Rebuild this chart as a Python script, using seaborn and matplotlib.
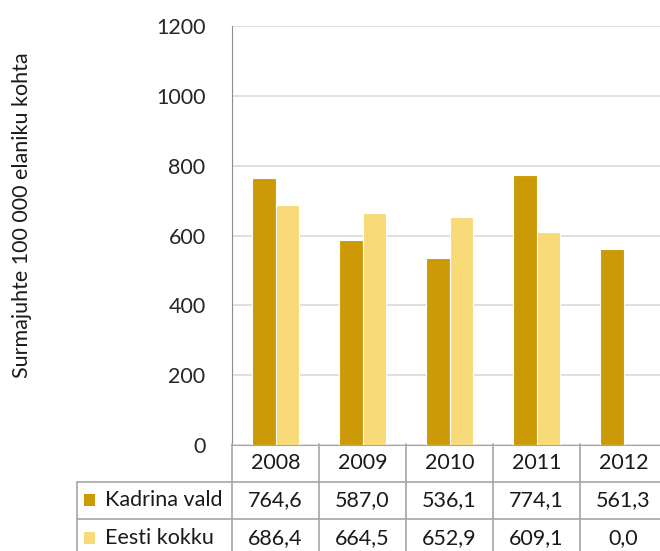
import pandas as pd
import numpy as np
import matplotlib.pyplot as plt
import seaborn as sns

# Andmed
aastad = ['2008', '2009', '2010', '2011', '2012']
kadrina = [764.6, 587.0, 536.1, 774.1, 561.3]
eesti = [686.4, 664.5, 652.9, 609.1, 0.0]
seeria = ['Kadrina vald', 'Eesti kokku']
varvid = ['#CC9A06', '#F9DA78']
y_ticks = [0, 200, 400, 600, 800, 1000, 1200]

sns.set_style("white")
plt.rcParams['font.family'] = ['Lato', 'DejaVu Sans']

df = pd.DataFrame({
    'aasta': aastad * 2,
    'vaartus': kadrina + eesti,
    'seeria': [seeria[0]] * len(aastad) + [seeria[1]] * len(aastad),
})

W, H = 660, 551
fig = plt.figure(figsize=(W / 100, H / 100), dpi=100)

# graafiku ala (piksleid pildilt)
x0, x1 = 232, 667
y_top, y_bot = 26, 445
ax = fig.add_axes([x0 / W, (H - y_bot) / H, (x1 - x0) / W, (y_bot - y_top) / H])

sns.barplot(data=df, x='aasta', y='vaartus', hue='seeria', palette=varvid,
            saturation=1, width=0.55, edgecolor='white', linewidth=0.8,
            legend=False, ax=ax)

ax.set_xlim(-0.5, len(aastad) - 0.5)
ax.set_ylim(0, 1200)
ax.set_yticks(y_ticks)
ax.set_yticklabels([str(t) for t in y_ticks], fontsize=15.5, color='#262626')
ax.tick_params(axis='y', length=0, pad=19)
ax.set_xticks([])
ax.set_xlabel('')
ax.set_ylabel('')
ax.grid(axis='y', color='#D9D9D9', linewidth=1.2)
ax.set_axisbelow(True)
for s in ['top', 'right']:
    ax.spines[s].set_visible(False)
ax.spines['left'].set_color('#8C8C8C')
ax.spines['bottom'].set_color('#A6A6A6')

fig.text(22 / W, 1 - 215 / H, 'Surmajuhte 100 000 elaniku kohta', rotation=90,
         ha='center', va='center', fontsize=15.5, color='#1a1a1a')

# andmetabel
t_left = 77
cat_w = (x1 - x0) / len(aastad)
tax = fig.add_axes([t_left / W, (H - 557) / H, (x1 - t_left) / W, (557 - 444) / H])
x_left = -0.5 - (x0 - t_left) / cat_w
tax.set_xlim(x_left, len(aastad) - 0.5)
tax.set_ylim(3, 0)
tax.axis('off')

lc = '#A6A6A6'
for i in range(len(aastad) + 1):
    tax.plot([i - 0.5, i - 0.5], [0, 3], color=lc, lw=1.2, clip_on=False)
tax.plot([x_left, x_left], [1, 3], color=lc, lw=1.2, clip_on=False)
for r in [1, 2]:
    tax.plot([x_left, len(aastad) - 0.5], [r, r], color=lc, lw=1.2, clip_on=False)

for i, a in enumerate(aastad):
    tax.text(i, 0.5, a, ha='center', va='center', fontsize=15.5, color='#1a1a1a')
for r, (nimi, vals, c) in enumerate(zip(seeria, [kadrina, eesti], varvid), start=1):
    for i, v in enumerate(vals):
        tax.text(i, r + 0.5, f'{v:.1f}'.replace('.', ','), ha='center', va='center',
                 fontsize=15.5, color='#1a1a1a')
    tax.add_patch(plt.Rectangle((x_left + 7 / cat_w, r + 0.33), 11 / cat_w, 0.32,
                                facecolor=c, edgecolor='none', clip_on=False))
    tax.text(x_left + 28 / cat_w, r + 0.5, nimi, ha='left', va='center',
             fontsize=15.5, color='#1a1a1a')

plt.savefig('out.png', dpi=100)
